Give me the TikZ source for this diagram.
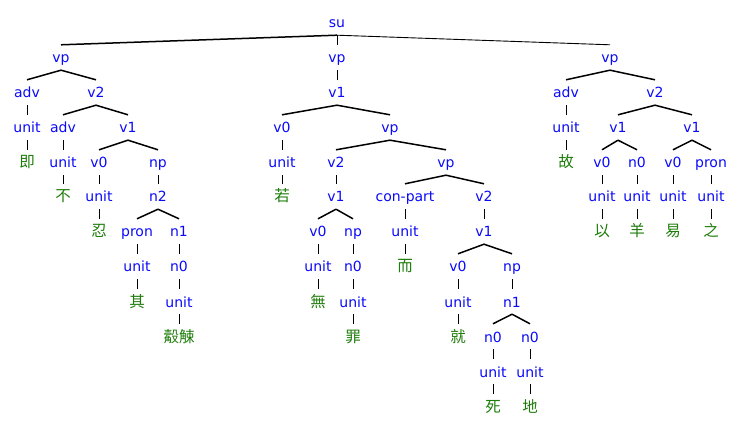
\documentclass[tikz,border=0pt]{standalone}
\usepackage{fontspec}
\setmainfont{DejaVu Sans}
\newfontfamily\cjk{Noto Sans CJK TC}
\usepackage{tikz}
\usetikzlibrary{positioning}
\definecolor{TreeBlue}{HTML}{0A0AF8}
\definecolor{TreeGreen}{HTML}{1E7D0A}
\newcommand{\treesize}{\fontsize{14}{16}\selectfont}
\newcommand{\wordsize}{\fontsize{15.5}{17}\selectfont}
\tikzset{
  cat/.style={text=TreeBlue,font=\treesize,inner sep=0pt,text height=18pt,text depth=7pt,anchor=base},
  word/.style={cat,text=TreeGreen,font=\cjk\wordsize},
  branch/.style={line width=1.5pt,draw=black},
  stem/.style={line width=0.9pt,draw=black}
}

\begin{document}
\begin{tikzpicture}[x=1pt,y=-1pt]
\useasboundingbox (0,0) rectangle (743,427);
\node[cat] (su) at (337,28) {su};
\node[cat] (vpa) at (61,63) {vp};
\node[cat] (vpb) at (337,63) {vp};
\node[cat] (vpc) at (610,63) {vp};
\draw[branch] (su.south)--(vpa.north);
\draw[stem] (su.south)--(vpb.north);
\draw[stem] (su.south)--(vpc.north);

% first clause
\node[cat] (adva) at (27,98) {adv};
\node[cat] (vtwoa) at (96,98) {v2};
\node[cat] (unita) at (27,133) {unit};
\node[word] (ji) at (27,168) {即};
\node[cat] (advb) at (63,133) {adv};
\node[cat] (vonea) at (128,133) {v1};
\node[cat] (unitb) at (63,168) {unit};
\node[word] (bu) at (63,202) {不};
\node[cat] (vzeroa) at (99,168) {v0};
\node[cat] (npa) at (158,168) {np};
\node[cat] (unitc) at (99,202) {unit};
\node[word] (ren) at (99,237) {忍};
\node[cat] (ntwoa) at (158,202) {n2};
\node[cat] (prona) at (137,237) {pron};
\node[cat] (nonea) at (179,237) {n1};
\node[cat] (unitd) at (137,272) {unit};
\node[word] (qi) at (137,307) {其};
\node[cat] (nzeroa) at (179,272) {n0};
\node[cat] (unite) at (179,307) {unit};
\node[word] (husu) at (179,342) {觳觫};
\draw[branch] (vpa.south)--(adva.north);
\draw[branch] (vpa.south)--(vtwoa.north);
\draw[stem] (adva.south)--(unita.north);
\draw[stem] (unita.south)--(ji.north);
\draw[branch] (vtwoa.south)--(advb.north);
\draw[branch] (vtwoa.south)--(vonea.north);
\draw[stem] (advb.south)--(unitb.north);
\draw[stem] (unitb.south)--(bu.north);
\draw[branch] (vonea.south)--(vzeroa.north);
\draw[branch] (vonea.south)--(npa.north);
\draw[stem] (vzeroa.south)--(unitc.north);
\draw[stem] (unitc.south)--(ren.north);
\draw[stem] (npa.south)--(ntwoa.north);
\draw[branch] (ntwoa.south)--(prona.north);
\draw[branch] (ntwoa.south)--(nonea.north);
\draw[stem] (prona.south)--(unitd.north);
\draw[stem] (unitd.south)--(qi.north);
\draw[stem] (nonea.south)--(nzeroa.north);
\draw[stem] (nzeroa.south)--(unite.north);
\draw[stem] (unite.south)--(husu.north);

% second clause
\node[cat] (voneb) at (337,98) {v1};
\node[cat] (vzerob) at (282,133) {v0};
\node[cat] (vpd) at (390,133) {vp};
\node[cat] (unitf) at (282,168) {unit};
\node[word] (ruo) at (282,202) {若};
\node[cat] (vtwob) at (336,168) {v2};
\node[cat] (vpe) at (446,168) {vp};
\node[cat] (vonec) at (336,202) {v1};
\node[cat] (vzeroc) at (318,237) {v0};
\node[cat] (npb) at (353,237) {np};
\node[cat] (unitg) at (318,272) {unit};
\node[word] (wu) at (318,307) {無};
\node[cat] (nzerob) at (353,272) {n0};
\node[cat] (unith) at (353,307) {unit};
\node[word] (zui) at (353,342) {罪};
\node[cat] (conpart) at (405,202) {con-part};
\node[cat] (uniti) at (405,237) {unit};
\node[word] (er) at (405,272) {而};
\node[cat] (vtwoc) at (484,202) {v2};
\node[cat] (voned) at (484,237) {v1};
\node[cat] (vzerod) at (458,272) {v0};
\node[cat] (unitj) at (458,307) {unit};
\node[word] (jiu) at (458,342) {就};
\node[cat] (npc) at (512,272) {np};
\node[cat] (noneb) at (512,307) {n1};
\node[cat] (nzeroc) at (493,342) {n0};
\node[cat] (nzerod) at (530,342) {n0};
\node[cat] (unitk) at (493,377) {unit};
\node[cat] (unitl) at (530,377) {unit};
\node[word] (si) at (493,412) {死};
\node[word] (di) at (530,412) {地};
\draw[stem] (vpb.south)--(voneb.north);
\draw[branch] (voneb.south)--(vzerob.north);
\draw[branch] (voneb.south)--(vpd.north);
\draw[stem] (vzerob.south)--(unitf.north);
\draw[stem] (unitf.south)--(ruo.north);
\draw[branch] (vpd.south)--(vtwob.north);
\draw[branch] (vpd.south)--(vpe.north);
\draw[stem] (vtwob.south)--(vonec.north);
\draw[branch] (vonec.south)--(vzeroc.north);
\draw[branch] (vonec.south)--(npb.north);
\draw[stem] (vzeroc.south)--(unitg.north);
\draw[stem] (unitg.south)--(wu.north);
\draw[stem] (npb.south)--(nzerob.north);
\draw[stem] (nzerob.south)--(unith.north);
\draw[stem] (unith.south)--(zui.north);
\draw[branch] (vpe.south)--(conpart.north);
\draw[branch] (vpe.south)--(vtwoc.north);
\draw[stem] (conpart.south)--(uniti.north);
\draw[stem] (uniti.south)--(er.north);
\draw[stem] (vtwoc.south)--(voned.north);
\draw[branch] (voned.south)--(vzerod.north);
\draw[branch] (voned.south)--(npc.north);
\draw[stem] (vzerod.south)--(unitj.north);
\draw[stem] (unitj.south)--(jiu.north);
\draw[stem] (npc.south)--(noneb.north);
\draw[branch] (noneb.south)--(nzeroc.north);
\draw[branch] (noneb.south)--(nzerod.north);
\draw[stem] (nzeroc.south)--(unitk.north);
\draw[stem] (nzerod.south)--(unitl.north);
\draw[stem] (unitk.south)--(si.north);
\draw[stem] (unitl.south)--(di.north);

% third clause
\node[cat] (advc) at (566,98) {adv};
\node[cat] (vtwod) at (655,98) {v2};
\node[cat] (unitm) at (566,133) {unit};
\node[word] (gu) at (566,168) {故};
\node[cat] (vonee) at (618,133) {v1};
\node[cat] (vonef) at (692,133) {v1};
\node[cat] (vzeroe) at (602,168) {v0};
\node[cat] (nzeroe) at (637,168) {n0};
\node[cat] (vzerof) at (673,168) {v0};
\node[cat] (pronb) at (711,168) {pron};
\node[cat] (unitn) at (602,202) {unit};
\node[cat] (unito) at (637,202) {unit};
\node[cat] (unitp) at (673,202) {unit};
\node[cat] (unitq) at (711,202) {unit};
\node[word] (yi) at (602,237) {以};
\node[word] (yang) at (637,237) {羊};
\node[word] (yib) at (673,237) {易};
\node[word] (zhi) at (711,237) {之};
\draw[branch] (vpc.south)--(advc.north);
\draw[branch] (vpc.south)--(vtwod.north);
\draw[stem] (advc.south)--(unitm.north);
\draw[stem] (unitm.south)--(gu.north);
\draw[branch] (vtwod.south)--(vonee.north);
\draw[branch] (vtwod.south)--(vonef.north);
\draw[branch] (vonee.south)--(vzeroe.north);
\draw[branch] (vonee.south)--(nzeroe.north);
\draw[branch] (vonef.south)--(vzerof.north);
\draw[branch] (vonef.south)--(pronb.north);
\draw[stem] (vzeroe.south)--(unitn.north);
\draw[stem] (nzeroe.south)--(unito.north);
\draw[stem] (vzerof.south)--(unitp.north);
\draw[stem] (pronb.south)--(unitq.north);
\draw[stem] (unitn.south)--(yi.north);
\draw[stem] (unito.south)--(yang.north);
\draw[stem] (unitp.south)--(yib.north);
\draw[stem] (unitq.south)--(zhi.north);
\end{tikzpicture}
\end{document}
